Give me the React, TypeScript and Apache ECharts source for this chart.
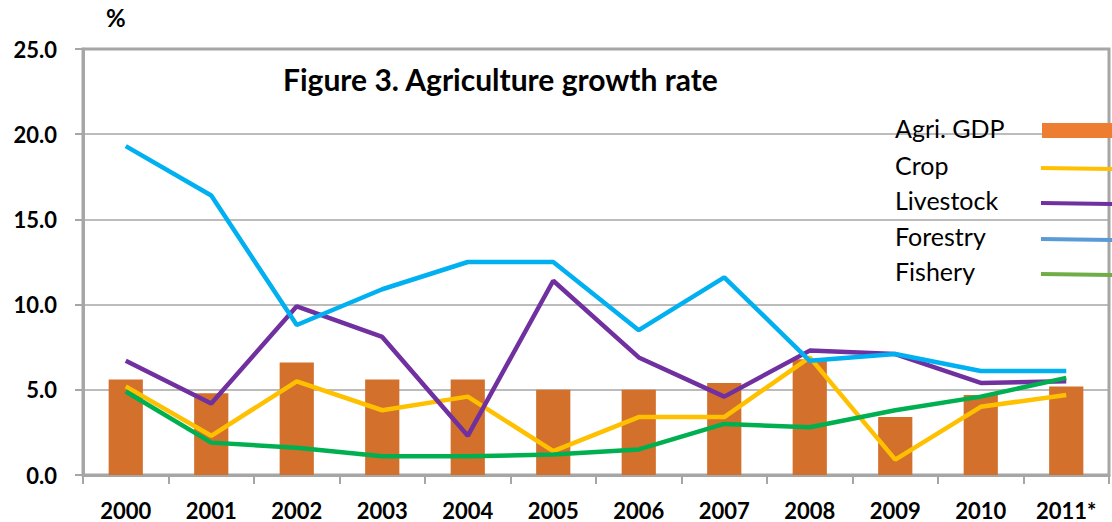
import React, { useEffect, useRef } from "react";
import * as echarts from "echarts";

// Years on the category axis
const years = ["2000", "2001", "2002", "2003", "2004", "2005", "2006", "2007", "2008", "2009", "2010", "2011*"];

// Growth rates, %
const agriGdp = [5.6, 4.8, 6.6, 5.6, 5.6, 5.0, 5.0, 5.4, 6.8, 3.4, 4.7, 5.2];
const crop = [5.2, 2.3, 5.5, 3.8, 4.6, 1.4, 3.4, 3.4, 6.9, 0.9, 4.0, 4.7];
const livestock = [6.7, 4.2, 9.9, 8.1, 2.3, 11.4, 6.9, 4.6, 7.3, 7.1, 5.4, 5.5];
const forestry = [19.3, 16.4, 8.8, 10.9, 12.5, 12.5, 8.5, 11.6, 6.7, 7.1, 6.1, 6.1];
const fishery = [4.9, 1.9, 1.6, 1.1, 1.1, 1.2, 1.5, 3.0, 2.8, 3.8, 4.6, 5.7];

// Legend entries (label, key colour)
const legendNames = ["Agri. GDP", "Crop", "Livestock", "Forestry", "Fishery"];
const legendColors = ["#ED7D31", "#FFC000", "#7030A0", "#5B9BD5", "#70AD47"];

const FONT = "Lato, 'Open Sans', sans-serif";
const AXIS_GRAY = "#A6A6A6";

export default function App() {
  const ref = useRef<HTMLDivElement>(null);

  useEffect(() => {
    if (!ref.current) return;
    const chart = echarts.init(ref.current, null, { renderer: "svg" });

    const legendTop = [130, 167, 202, 238, 273];
    const legendGraphics: any[] = [];
    legendNames.forEach((name, i) => {
      legendGraphics.push({
        type: "text",
        left: 895,
        top: legendTop[i] - 15,
        style: { text: name, fontFamily: FONT, fontSize: 25, fill: "#000" },
        z: 10,
      });
      if (i === 0) {
        legendGraphics.push({
          type: "rect",
          shape: { x: 1042, y: 123, width: 70, height: 15 },
          style: { fill: legendColors[i] },
          z: 10,
        });
      } else {
        legendGraphics.push({
          type: "line",
          shape: { x1: 1041, y1: legendTop[i] + 1, x2: 1112, y2: legendTop[i] + 2 },
          style: { stroke: legendColors[i], lineWidth: 4 },
          z: 10,
        });
      }
    });

    const lineSeries = (name: string, data: number[], color: string) => ({
      name,
      type: "line",
      data,
      symbol: "none",
      lineStyle: { color, width: 4.5 },
      itemStyle: { color },
    });

    chart.setOption({
      animation: false,
      backgroundColor: "#fff",
      grid: {
        left: 83,
        right: 3,
        top: 49,
        bottom: 47,
        show: true,
        borderColor: AXIS_GRAY,
        borderWidth: 3,
      },
      xAxis: {
        type: "category",
        data: years,
        boundaryGap: true,
        axisLine: { lineStyle: { color: AXIS_GRAY, width: 3 } },
        axisTick: { show: true, length: 9, lineStyle: { color: AXIS_GRAY, width: 2 } },
        axisLabel: {
          color: "#000",
          fontFamily: FONT,
          fontWeight: "bold",
          fontSize: 22,
          margin: 24,
        },
      },
      yAxis: {
        type: "value",
        min: 0,
        max: 25,
        interval: 5,
        axisLine: { show: true, lineStyle: { color: AXIS_GRAY, width: 3 } },
        axisTick: { show: true, length: 8, lineStyle: { color: AXIS_GRAY, width: 2 } },
        splitLine: { lineStyle: { color: AXIS_GRAY, width: 1.5 } },
        axisLabel: {
          color: "#000",
          fontFamily: FONT,
          fontWeight: "bold",
          fontSize: 22,
          margin: 26,
          formatter: (v: number) => v.toFixed(1),
        },
      },
      graphic: [
        {
          type: "text",
          left: 106,
          top: 5,
          style: { text: "%", fontFamily: FONT, fontWeight: "bold", fontSize: 24, fill: "#000" },
        },
        {
          type: "text",
          left: 283,
          top: 64,
          style: {
            text: "Figure 3. Agriculture growth rate",
            fontFamily: FONT,
            fontWeight: "bold",
            fontSize: 30,
            fill: "#000",
          },
          z: 10,
        },
        ...legendGraphics,
      ],
      series: [
        {
          name: "Agri. GDP",
          type: "bar",
          data: agriGdp,
          barWidth: "40%",
          itemStyle: { color: "#D2702C" },
        },
        lineSeries("Crop", crop, "#FFC000"),
        lineSeries("Livestock", livestock, "#7030A0"),
        lineSeries("Forestry", forestry, "#00B0F0"),
        lineSeries("Fishery", fishery, "#00B050"),
      ],
    });

    return () => chart.dispose();
  }, []);

  return (
    <div
      ref={ref}
      style={{ position: "fixed", left: 0, top: 0, width: 1112, height: 522, background: "#fff" }}
    />
  );
}
